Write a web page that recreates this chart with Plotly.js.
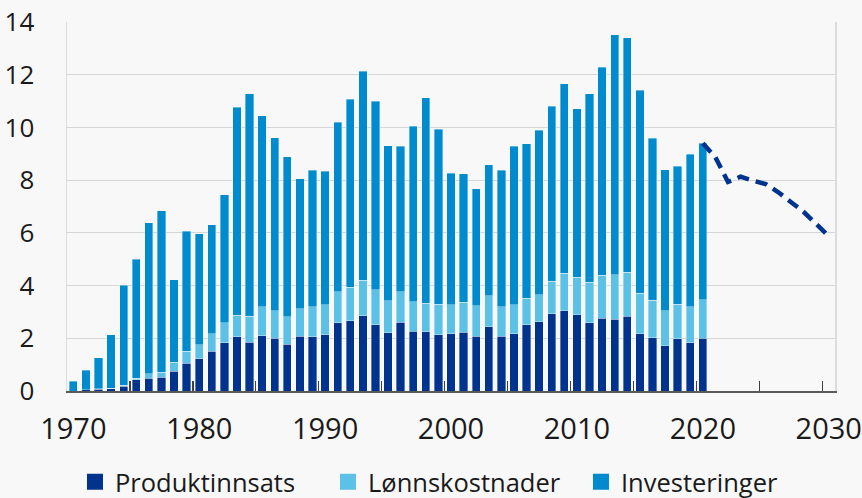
<!DOCTYPE html>
<html>
<head>
<meta charset="utf-8">
<script src="https://cdn.plot.ly/plotly-3.0.1.min.js"></script>
<style>
html,body{margin:0;padding:0;background:#f8f8f8;}
#chart{width:862px;height:498px;}
</style>
</head>
<body>
<div id="chart"></div>
<script>
const years = [1970,1971,1972,1973,1974,1975,1976,1977,1978,1979,
  1980,1981,1982,1983,1984,1985,1986,1987,1988,1989,
  1990,1991,1992,1993,1994,1995,1996,1997,1998,1999,
  2000,2001,2002,2003,2004,2005,2006,2007,2008,2009,
  2010,2011,2012,2013,2014,2015,2016,2017,2018,2019,2020];

const produktinnsats = [0.00,0.05,0.06,0.09,0.18,0.42,0.49,0.52,0.75,1.06,
  1.22,1.50,1.83,2.05,1.85,2.10,2.00,1.77,2.08,2.05,
  2.13,2.59,2.66,2.85,2.51,2.21,2.61,2.27,2.24,2.14,
  2.17,2.22,2.08,2.43,2.08,2.17,2.51,2.62,2.93,3.05,
  2.89,2.59,2.76,2.72,2.84,2.17,2.02,1.71,1.98,1.83,2.00];

const lonnskostnader = [0.00,0.00,0.02,0.02,0.04,0.06,0.16,0.19,0.35,0.45,
  0.53,0.67,0.76,0.83,0.99,1.09,1.05,1.04,1.05,1.14,
  1.14,1.17,1.27,1.36,1.34,1.21,1.15,1.11,1.08,1.16,
  1.10,1.15,1.16,1.18,1.11,1.10,1.01,1.03,1.24,1.42,
  1.42,1.54,1.64,1.69,1.67,1.54,1.43,1.34,1.32,1.36,1.47];

const investeringer = [0.37,0.74,1.19,2.02,3.80,4.51,5.74,6.13,3.12,4.56,
  4.22,4.13,4.85,7.88,8.43,7.25,6.56,6.07,4.92,5.19,
  5.06,6.44,7.13,7.93,7.14,5.88,5.52,6.66,7.80,6.64,
  4.99,4.87,4.43,4.97,5.19,6.01,5.86,6.24,6.63,7.18,
  6.39,7.14,7.89,9.11,8.90,7.71,6.14,5.35,5.22,5.80,5.93];

const projYears = [2020,2021,2022,2023,2024,2025,2026,2027,2028,2029,2030];
const projection = [9.40,8.87,7.93,8.13,7.98,7.85,7.54,7.19,6.80,6.34,5.88];

const seriesNames = ['Produktinnsats','Lønnskostnader','Investeringer'];
const xLabelVals = [1970,1980,1990,2000,2010,2020,2030];
const xLabelText = ['1970','1980','1990','2000','2010','2020','2030'];
const xTickMarks = [1969.5,1974.5,1979.5,1984.5,1989.5,1994.5,1999.5,2004.5,2009.5,2014.5,2019.5,2024.5,2029.5];
const yTicks = [0,2,4,6,8,10,12,14];

const COLORS = ['#00338D','#5BC1E6','#008BCF'];
const edge = {width: 0.8, color: 'rgba(255,255,255,0.45)'};
const seriesData = [produktinnsats, lonnskostnader, investeringer];

const traces = [];
seriesData.forEach((vals, i) => {
  traces.push({type:'bar', name:seriesNames[i], x:years, y:vals, legendgroup:'g'+i, showlegend:false,
               marker:{color:COLORS[i], line:edge}, hoverinfo:'x+y'});
});
// legend entries (larger square swatches)
seriesNames.forEach((nm, i) => {
  traces.push({type:'scatter', mode:'markers', name:nm, x:[null], y:[null], legendgroup:'g'+i,
               marker:{symbol:'square', size:17, color:COLORS[i]}, hoverinfo:'skip'});
});
traces.push({type:'scatter', mode:'lines', x:projYears, y:projection, xaxis:'x2', showlegend:false,
   line:{color:COLORS[0], width:4.5, dash:'12px,7px'}});

const font = {family:'"Open Sans", "Noto Sans", sans-serif', size:26, color:'#1a1a1a'};
const xfont = {family:'"Open Sans", "Noto Sans", sans-serif', size:29, color:'#1a1a1a'};
const lfont = {family:'"Open Sans", "Noto Sans", sans-serif', size:25.5, color:'#1a1a1a'};

const layout = {
  width:862, height:498,
  margin:{l:67, r:27, t:22, b:107, autoexpand:false},
  paper_bgcolor:'#f8f8f8', plot_bgcolor:'#f8f8f8',
  barmode:'stack', bargap:0.34,
  font:font,
  showlegend:true,
  legend:{orientation:'h', x:0.0104, xanchor:'left', y:-0.247, yanchor:'middle',
          entrywidth:208, itemsizing:'trace',
          font:lfont, bgcolor:'rgba(0,0,0,0)', traceorder:'normal'},
  xaxis:{range:[1969.5,2030.5], tickmode:'array', tickvals:xLabelVals, ticktext:xLabelText,
         ticks:'', showgrid:false, zeroline:false, showline:true, linecolor:'#5a5a5a', linewidth:1.5,
         ticklabelstandoff:12, tickfont:xfont, automargin:false},
  xaxis2:{range:[1969.5,2030.5], overlaying:'x', anchor:'y', side:'bottom', tickmode:'array',
          tickvals:xTickMarks, ticks:'inside', ticklen:10, tickwidth:1.2, tickcolor:'#404040',
          showticklabels:false, showgrid:false, zeroline:false, showline:false},
  yaxis:{range:[0,14], tickmode:'array', tickvals:yTicks, ticks:'', showgrid:true,
         gridcolor:'#d6d6d6', gridwidth:1, zeroline:false, showline:true, mirror:true,
         linecolor:'#dcdcdc', linewidth:1.5, ticklabelstandoff:26, tickfont:font, automargin:false}
};

Plotly.newPlot('chart', traces, layout, {displayModeBar:false, staticPlot:true});
</script>
</body>
</html>
